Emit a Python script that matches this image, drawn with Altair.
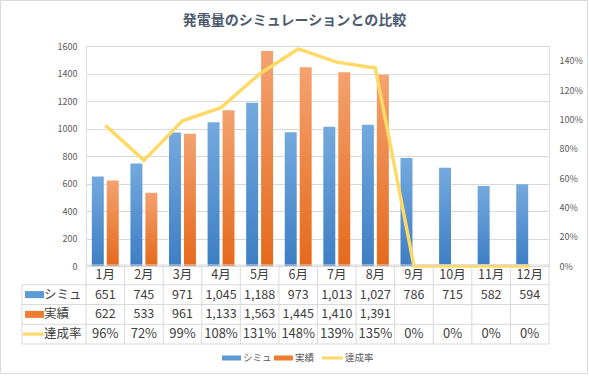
import altair as alt
import pandas as pd

FONT = "Noto Sans CJK JP"

# ---- data ----
title_text = "発電量のシミュレーションとの比較"
months = ["1月", "2月", "3月", "4月", "5月", "6月", "7月", "8月", "9月", "10月", "11月", "12月"]
sim = [651, 745, 971, 1045, 1188, 973, 1013, 1027, 786, 715, 582, 594]
act = [622, 533, 961, 1133, 1563, 1445, 1410, 1391]
rate = [0.96, 0.72, 0.99, 1.08, 1.31, 1.48, 1.39, 1.35, 0.0, 0.0, 0.0, 0.0]
series = ["シミュ", "実績", "達成率"]
left_ticks = [0, 200, 400, 600, 800, 1000, 1200, 1400, 1600]
right_ticks = [0, 0.2, 0.4, 0.6, 0.8, 1.0, 1.2, 1.4]

BLUE = "#5B9BD5"
ORANGE = "#ED7D31"
YELLOW = "#FFD966"
GRID = "#D9D9D9"
TXT = "#404040"
AX = "#595959"

W, H = 463, 220
ROW_TOP, ROW_BOT = 219, 298
KEY_X = -64

df_sim = pd.DataFrame({"month": months, "value": sim, "series": series[0]})
df_act = pd.DataFrame({"month": months[:len(act)], "value": act, "series": series[1]})
df_rate = pd.DataFrame({"month": months, "rate": rate})

rows = ["月"] + series
recs = []
for i, m in enumerate(months):
    recs.append({"month": m, "row": "月", "label": m})
    recs.append({"month": m, "row": series[0], "label": f"{sim[i]:,}"})
    if i < len(act):
        recs.append({"month": m, "row": series[1], "label": f"{act[i]:,}"})
df_tbl = pd.DataFrame(recs)
df_pct = pd.DataFrame({"month": months, "row": series[2],
                       "label": [f"{round(r * 100)}%" for r in rate]})
df_keys = pd.DataFrame({"row": series})
df_rows = pd.DataFrame({"row": series})
df_month = pd.DataFrame({"month": months})
dummy = pd.DataFrame({"a": [0]})

# ---- scales ----
x_scale = alt.Scale(domain=months, paddingInner=0, paddingOuter=0)
x_enc = alt.X("month:N", scale=x_scale, axis=None)
xoff = alt.XOffset("series:N", scale=alt.Scale(domain=series[:2], paddingInner=0.2, paddingOuter=0.39))
row_scale = alt.Scale(domain=rows, range=[ROW_TOP, ROW_BOT], paddingInner=0, paddingOuter=0)
y_row = alt.Y("row:N", scale=row_scale, axis=None)

left_axis = alt.Axis(values=left_ticks, format="d", grid=True, gridColor=GRID, domain=False, ticks=False,
                     labelPadding=9, labelFontSize=9, labelColor=AX, labelFont=FONT, title=None)
right_axis = alt.Axis(orient="right", values=right_ticks, format=".0%", grid=False, domain=False,
                      ticks=False, labelPadding=10, labelFontSize=9, labelColor=AX, labelFont=FONT,
                      title=None)


def grad(top, bottom):
    return alt.LinearGradient(gradient="linear",
                              stops=[alt.GradientStop(offset=0, color=top),
                                     alt.GradientStop(offset=1, color=bottom)],
                              x1=0, x2=0, y1=0, y2=1)


y_left = alt.Y("value:Q", scale=alt.Scale(domain=[0, 1600]), axis=left_axis)
blue = alt.Chart(df_sim).mark_bar(color=grad("#74A9DE", "#3D7EC4")).encode(x=x_enc, xOffset=xoff, y=y_left)
orange = alt.Chart(df_act).mark_bar(color=grad("#F4A26F", "#E5691B")).encode(x=x_enc, xOffset=xoff, y=y_left)
bars = alt.layer(blue, orange)

line = alt.Chart(df_rate).mark_line(color=YELLOW, strokeWidth=3.5).encode(
    x=x_enc, y=alt.Y("rate:Q", scale=alt.Scale(domain=[0, 1.5]), axis=right_axis))

# ---- table ----
tbl_text = alt.Chart(df_tbl).mark_text(fontSize=12.5, color=TXT, font=FONT, baseline="middle").encode(
    x=x_enc, y=y_row, text="label:N")
pct_text = alt.Chart(df_pct).mark_text(fontSize=13, color=TXT, font=FONT, baseline="middle").encode(
    x=x_enc, y=y_row, text="label:N")
key_text = alt.Chart(df_keys).mark_text(fontSize=12.5, color=TXT, font=FONT, align="left",
                                        baseline="middle").encode(
    x=alt.value(KEY_X + 22), y=y_row, text="row:N")
key_rect = alt.Chart(df_keys[df_keys["row"] != series[2]]).mark_tick(
    orient="horizontal", thickness=7, size=19, opacity=1).encode(
    x=alt.value(KEY_X + 12.5), y=y_row,
    color=alt.Color("row:N", scale=alt.Scale(domain=series, range=[BLUE, ORANGE, YELLOW]), legend=None))
key_line = alt.Chart(df_keys[df_keys["row"] == series[2]]).mark_tick(
    orient="horizontal", thickness=3, size=21, color=YELLOW, opacity=1).encode(
    x=alt.value(KEY_X + 11.5), y=y_row)

vlines = alt.Chart(df_month).mark_rule(color=GRID, strokeWidth=1).encode(
    x=alt.X("month:N", scale=x_scale, axis=None, bandPosition=0),
    y=alt.value(ROW_TOP), y2=alt.value(ROW_BOT))
vline_end = alt.Chart(dummy).mark_rule(color=GRID).encode(
    x=alt.value(W), y=alt.value(ROW_TOP), y2=alt.value(ROW_BOT))
hlines = alt.Chart(df_rows).mark_rule(color=GRID).encode(
    y=alt.Y("row:N", scale=row_scale, axis=None, bandPosition=0),
    x=alt.value(KEY_X), x2=alt.value(W))
hline_top = alt.Chart(dummy).mark_rule(color=GRID).encode(
    y=alt.value(ROW_TOP), x=alt.value(0), x2=alt.value(W))
hline_bot = alt.Chart(dummy).mark_rule(color=GRID).encode(
    y=alt.value(ROW_BOT), x=alt.value(KEY_X), x2=alt.value(W))
vline_key = alt.Chart(dummy).mark_rule(color=GRID).encode(
    x=alt.value(KEY_X), y=alt.value(ROW_TOP + (ROW_BOT - ROW_TOP) / 4), y2=alt.value(ROW_BOT))

table = alt.layer(vlines, vline_end, hlines, hline_top, hline_bot, vline_key,
                  tbl_text, pct_text, key_text, key_rect, key_line)

# ---- bottom legend ----
leg_y = 312
leg_x = [136, 188, 236]
leg_layers = []
for i, s in enumerate(series):
    d = pd.DataFrame({"series": [s]})
    if i < 2:
        sym = alt.Chart(d).mark_rect(color=[BLUE, ORANGE][i]).encode(
            x=alt.value(leg_x[i]), x2=alt.value(leg_x[i] + 19),
            y=alt.value(leg_y - 2.5), y2=alt.value(leg_y + 2.5))
        tx = leg_x[i] + 21
    else:
        sym = alt.Chart(d).mark_rule(color=YELLOW, strokeWidth=3).encode(
            x=alt.value(leg_x[i]), x2=alt.value(leg_x[i] + 21), y=alt.value(leg_y))
        tx = leg_x[i] + 23
    lab = alt.Chart(d).mark_text(fontSize=9.5, color=AX, font=FONT, align="left",
                                 baseline="middle").encode(
        x=alt.value(tx), y=alt.value(leg_y), text="series:N")
    leg_layers += [sym, lab]
legend = alt.layer(*leg_layers)

frame = alt.Chart(dummy).mark_rect(fillOpacity=0, stroke=GRID, strokeWidth=1).encode(
    x=alt.value(-85.5), x2=alt.value(501.5), y=alt.value(-45.5), y2=alt.value(327.5))

title = alt.Chart(pd.DataFrame({"t": [title_text]})).mark_text(
    fontSize=14, fontWeight="bold", color="#4D5B70", font=FONT, align="center", baseline="middle").encode(
    x=alt.value(208.5), y=alt.value(-25), text="t:N")

chart = alt.layer(frame, title, bars, line, table, legend).resolve_scale(y="independent").properties(
    width=W, height=H,
    autosize=alt.AutoSizeParams(type="none"),
    padding={"left": 86, "top": 46, "right": 40, "bottom": 111},
).configure_view(stroke=None).configure(font=FONT)

chart.save("out.html", embed_options={"renderer": "svg", "actions": False})
